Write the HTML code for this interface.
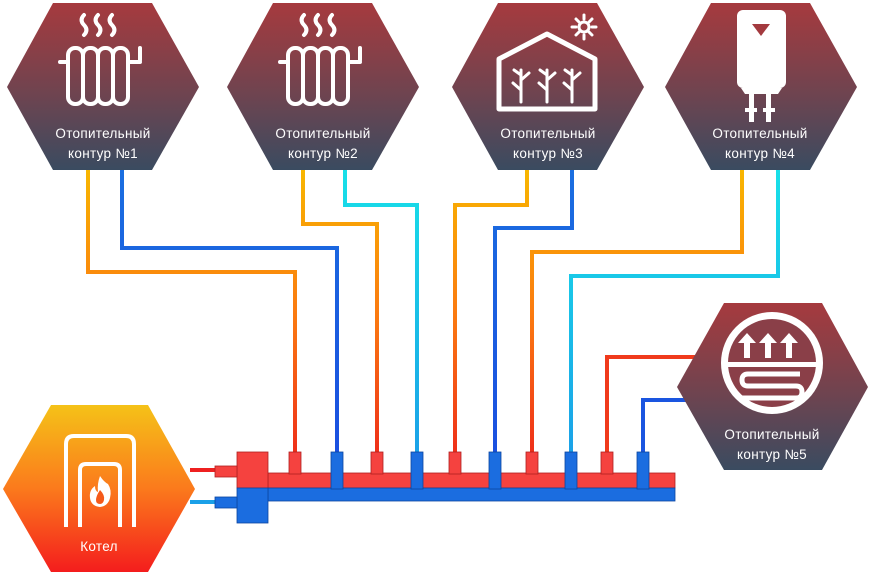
<!DOCTYPE html>
<html><head><meta charset="utf-8"><style>
html,body{margin:0;padding:0;background:#fff;width:871px;height:578px;overflow:hidden}
svg{display:block}
text{font-family:"Liberation Sans",sans-serif;fill:#fff;font-size:13.5px;letter-spacing:0.3px;text-anchor:middle}
</style></head><body>
<svg width="871" height="578" viewBox="0 0 871 578">
<defs>
<linearGradient id="hx" x1="0" y1="0" x2="0" y2="1">
<stop offset="0" stop-color="#a63a3e"/><stop offset="0.55" stop-color="#6e4450"/><stop offset="1" stop-color="#3a4b60"/></linearGradient>
<linearGradient id="kt" x1="0" y1="0" x2="0" y2="1">
<stop offset="0" stop-color="#f5c218"/><stop offset="0.5" stop-color="#fb7a1c"/><stop offset="1" stop-color="#f41d1d"/></linearGradient>
<linearGradient id="w" gradientUnits="userSpaceOnUse" x1="0" y1="170" x2="0" y2="460">
<stop offset="0" stop-color="#f8b600"/><stop offset="0.5" stop-color="#fb7a10"/><stop offset="1" stop-color="#ee2b1a"/></linearGradient>
<linearGradient id="c2" gradientUnits="userSpaceOnUse" x1="0" y1="170" x2="0" y2="460">
<stop offset="0" stop-color="#18e0e8"/><stop offset="1" stop-color="#1aa0e8"/></linearGradient>
<linearGradient id="c3" gradientUnits="userSpaceOnUse" x1="0" y1="170" x2="0" y2="460">
<stop offset="0" stop-color="#1a6ee0"/><stop offset="1" stop-color="#1a4fe0"/></linearGradient>
</defs>

<g fill="none" stroke-width="4">
<path d="M88 170V272H295V460" stroke="url(#w)"/>
<path d="M122 170V248H337V460" stroke="url(#c3)"/>
<path d="M303 170V224H377V460" stroke="url(#w)"/>
<path d="M345 170V205H417V460" stroke="url(#c2)"/>
<path d="M527 170V205H455V460" stroke="url(#w)"/>
<path d="M572 170V228H495V460" stroke="url(#c3)"/>
<path d="M742 170V252H532V460" stroke="url(#w)"/>
<path d="M778 170V276H571V460" stroke="url(#c2)"/>
<path d="M700 357H607V460" stroke="#f03a1c"/>
<path d="M690 400H643V460" stroke="#1a55e0"/>
<path d="M190 470H216" stroke="#ee2020"/>
<path d="M190 502H216" stroke="#1aa0e8"/>
</g>

<g stroke="#b02020" stroke-width="0.8">
<rect x="268" y="473" width="407" height="15" fill="#f5423f"/>
<rect x="237" y="452" width="31" height="36" fill="#f5423f"/>
<rect x="215" y="466" width="22" height="11" fill="#f5423f"/>
<g fill="#f5423f">
<rect x="289" y="452" width="12" height="22"/>
<rect x="371" y="452" width="12" height="22"/>
<rect x="449" y="452" width="12" height="22"/>
<rect x="526" y="452" width="12" height="22"/>
<rect x="601" y="452" width="12" height="22"/>
</g>
</g>
<g stroke="#0c45a0" stroke-width="0.8" fill="#1b6de0">
<rect x="268" y="488" width="407" height="13"/>
<rect x="237" y="488" width="31" height="35"/>
<rect x="215" y="497" width="22" height="11"/>
<rect x="331" y="452" width="12" height="37"/>
<rect x="411" y="452" width="12" height="37"/>
<rect x="489" y="452" width="12" height="37"/>
<rect x="565" y="452" width="12" height="37"/>
<rect x="637" y="452" width="12" height="37"/>
</g>

<polygon points="53,3 152,3 199,87 152,170 53,170 7,87" fill="url(#hx)"/>
<polygon points="273,3 372,3 419,87 372,170 273,170 227,87" fill="url(#hx)"/>
<polygon points="498,3 597,3 644,87 597,170 498,170 452,87" fill="url(#hx)"/>
<polygon points="711,3 810,3 857,87 810,170 711,170 665,87" fill="url(#hx)"/>
<polygon points="724,303 822,303 868,387 822,470 724,470 677,387" fill="url(#hx)"/>
<polygon points="51,405 148,405 195,489 148,572 51,572 3,489" fill="url(#kt)"/>

<g id="rad" fill="none" stroke="#fff" stroke-width="4" stroke-linecap="round">
<path d="M84 15q-5 5 0 10t0 10M98 15q-5 5 0 10t0 10M112 15q-5 5 0 10t0 10"/>
<path d="M60 62H68M140 60V48"/>
<rect x="68" y="48" width="15" height="56" rx="7"/>
<rect x="83" y="48" width="15" height="56" rx="7"/>
<rect x="98" y="48" width="15" height="56" rx="7"/>
<rect x="113" y="48" width="15" height="56" rx="7"/>
<path d="M128 62H140"/>
</g>
<use href="#rad" x="220"/>

<g fill="none" stroke="#fff" stroke-width="5" stroke-linejoin="round">
<path d="M499 59L547 34 595 59V109H499Z"/>
</g>
<g stroke="#fff" stroke-width="3" fill="none" stroke-linecap="round">
<path d="M521 102V70M521 90l-8-7M521 80l8-7M521 75l-7-5"/>
<path d="M547 102V70M547 90l-8-7M547 80l8-7M547 75l-7-5"/>
<path d="M572 102V70M572 90l-8-7M572 80l8-7M572 75l-7-5"/>
<circle cx="584" cy="27" r="5"/>
<path d="M584 15v4M584 35v4M572 27h4M592 27h4M576 19l3 3M589 32l3 3M592 19l-3 3M579 32l-3 3"/>
</g>

<g fill="#fff">
<rect x="737" y="10" width="49" height="78" rx="6"/>
<path d="M741 88h41l-4 6h-33z"/>
<rect x="749" y="94" width="5" height="28"/><rect x="766" y="94" width="5" height="28"/>
<rect x="745" y="108" width="12" height="4"/><rect x="763" y="108" width="12" height="4"/>
</g>
<path d="M752 24h18l-9 12z" fill="#a33a3f"/>

<circle cx="772" cy="363" r="51" fill="#fff"/>
<circle cx="772" cy="363" r="44" fill="#8a3f48"/>
<rect x="725" y="362" width="94" height="5" fill="#fff"/>
<g fill="#fff">
<path d="M744 358v-15h-6l9-10 9 10h-6v15z"/>
<path d="M765 358v-15h-6l9-10 9 10h-6v15z"/>
<path d="M786 358v-15h-6l9-10 9 10h-6v15z"/>
</g>
<path d="M800 374H748q-6 0-6 6t6 6h48q6 0 6 6t-6 6H742" fill="none" stroke="#fff" stroke-width="5"/>

<g fill="none" stroke="#fff" stroke-width="4">
<path d="M66 527V444q0-8 8-8h52q8 0 8 8v83"/>
<path d="M80 527V470q0-6 6-6h28q6 0 6 6v57"/>
</g>
<path d="M100 476q4 6 8 8q4 6 2 14q-2 8-10 9q-9-1-10-9q-1-8 5-12q0 5 3 6q-1-8 2-16z" fill="#fff"/>
<path d="M100 490q5 5 4 10q-1 4-4 4q-4 0-4-4q0-4 4-10z" fill="#f55a1a"/>

<text x="103" y="138">Отопительный</text><text x="103" y="158">контур  №1</text>
<text x="323" y="138">Отопительный</text><text x="323" y="158">контур  №2</text>
<text x="548" y="138">Отопительный</text><text x="548" y="158">контур  №3</text>
<text x="760" y="138">Отопительный</text><text x="760" y="158">контур  №4</text>
<text x="772" y="439">Отопительный</text><text x="772" y="459">контур  №5</text>
<text x="99" y="551">Котел</text>
</svg>
</body></html>
